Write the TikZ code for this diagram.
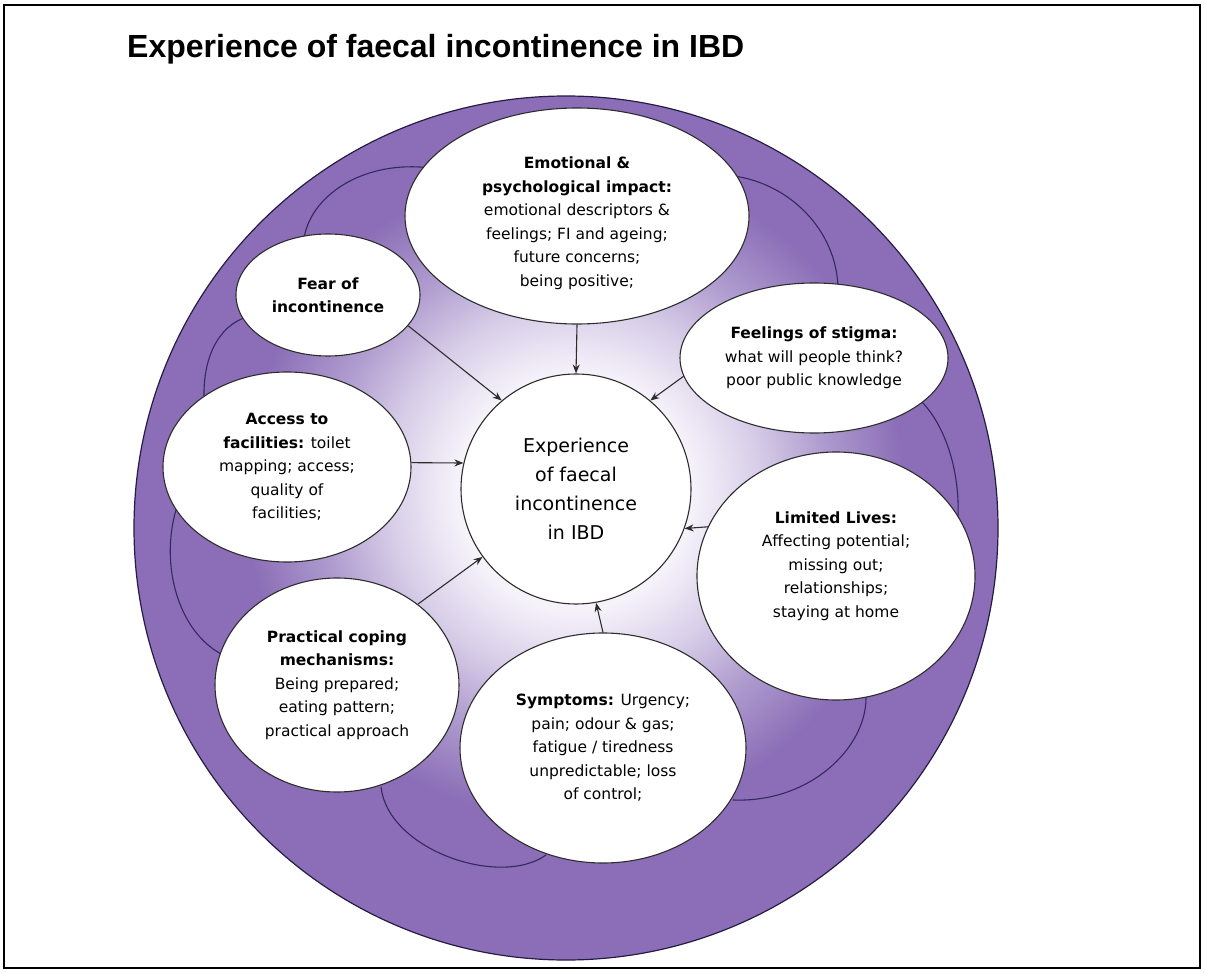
\documentclass[tikz,border=0pt]{standalone}
\usepackage{fontspec}
\setmainfont{Liberation Sans}
\newfontfamily\handfont{DejaVu Sans}
\usetikzlibrary{shapes.geometric,arrows.meta}

\definecolor{ringpurple}{RGB}{139,110,183}
\definecolor{ringmid}{RGB}{176,157,207}
\definecolor{ringlav}{RGB}{216,206,232}
\definecolor{ringpale}{RGB}{245,242,250}
\definecolor{petalline}{RGB}{52,40,94}
\definecolor{inkgrey}{RGB}{45,45,45}

% light centre fading out to the purple rim (25bp = radius of the shaded path)
\pgfdeclareradialshading{ringshade}{\pgfpoint{0bp}{0bp}}{%
  color(0bp)=(ringpale); color(9bp)=(ringpale); color(14bp)=(ringlav);
  color(19bp)=(ringmid); color(25bp)=(ringpurple); color(50bp)=(ringpurple)}

\begin{document}
\begin{tikzpicture}[x=1pt,y=-1pt,
  themetext/.style={inner sep=0pt, align=center,
    font=\handfont\fontsize{15.5}{23.5}\selectfont},
  theme/.style={ellipse, draw=inkgrey, line width=1.1pt, fill=white,
    themetext},
  hub/.style={circle, draw=inkgrey, line width=1.1pt, fill=white,
    inner sep=0pt, minimum size=230pt, align=center,
    font=\handfont\fontsize{19}{29}\selectfont},
  feed/.style={draw=inkgrey, line width=1.1pt,
    -{Stealth[length=9pt,width=7pt]}},
  petal/.style={draw=petalline, line width=1.1pt},
]
\useasboundingbox (0,0) rectangle (1205,973);
\draw[line width=2pt] (4,5) rectangle (1200,968);

\node[anchor=base west, inner sep=0pt,
      font=\bfseries\fontsize{32}{38}\selectfont] (title) at (127,58)
  {Experience of faecal incontinence in IBD};

% purple disc with a pale centre
\coordinate (disc) at (566,528);
\fill[ringpurple] (disc) circle[radius=432pt];
\begin{scope}
  \clip (disc) circle[radius=432pt];
  \shade[shading=ringshade] (574,492) circle[radius=330pt];
\end{scope}
\draw[petalline!70!black, line width=1.2pt] (disc) circle[radius=432pt];

% petal outlines between neighbouring themes
\draw[petal] (304,238) .. controls (312,192) and (368,160) .. (430,168);
\draw[petal] (244,318) .. controls (222,326) and (203,352) .. (204,398);
\draw[petal] (734,176) .. controls (790,184) and (836,230) .. (838,287);
\draw[petal] (922,402) .. controls (944,425) and (960,468) .. (958,518);
\draw[petal] (866,698) .. controls (866,748) and (810,803) .. (733,800);
\draw[petal] (381,787) .. controls (388,850) and (500,888) .. (546,855);
\draw[petal] (176,510) .. controls (160,565) and (178,632) .. (223,655);

% themes
\node[theme, minimum width=344pt, minimum height=216pt] (emo) at (577,216) {};
\node[themetext] (emotext) at ([yshift=-7pt]emo.center)
  {\textbf{Emotional \&}\\\textbf{psychological impact:}\\emotional descriptors \&\\
   feelings; FI and ageing;\\future concerns;\\being positive;};
\node[theme, minimum width=184pt, minimum height=122pt] (fear) at (328,295)
  {\textbf{Fear of}\\\textbf{incontinence}};
\node[theme, minimum width=268pt, minimum height=150pt] (feel) at (814,358)
  {\textbf{Feelings of stigma:}\\what will people think?\\poor public knowledge};
\node[theme, minimum width=248pt, minimum height=190pt] (acc) at (287,467)
  {\textbf{Access to}\\\textbf{facilities:} toilet\\mapping; access;\\quality of\\facilities;};
\node[theme, minimum width=278pt, minimum height=248pt] (lim) at (836,576) {};
\node[themetext] (limtext) at ([yshift=10pt]lim.center)
  {\textbf{Limited Lives:}\\Affecting potential;\\missing out;\\relationships;\\staying at home};
\node[theme, minimum width=244pt, minimum height=214pt] (prac) at (337,685)
  {\textbf{Practical coping}\\\textbf{mechanisms:}\\Being prepared;\\eating pattern;\\practical approach};
\node[theme, minimum width=286pt, minimum height=230pt] (sym) at (603,748)
  {\textbf{Symptoms:} Urgency;\\pain; odour \& gas;\\fatigue / tiredness\\unpredictable; loss\\of control;};

\node[hub] (hub) at (576,489)
  {Experience\\of faecal\\incontinence\\in IBD};

% influences on the central experience
\draw[feed] (fear.-21) -- (hub.130);
\draw[feed] (emo.south) -- (hub.north);
\draw[feed] (feel.188) -- (hub.50);
\draw[feed] (acc.2) -- (hub.167);
\draw[feed] (lim.159) -- (hub.-20);
\draw[feed] (prac.45) -- (hub.216);
\draw[feed] (sym.90) -- (hub.280);
\end{tikzpicture}
\end{document}
